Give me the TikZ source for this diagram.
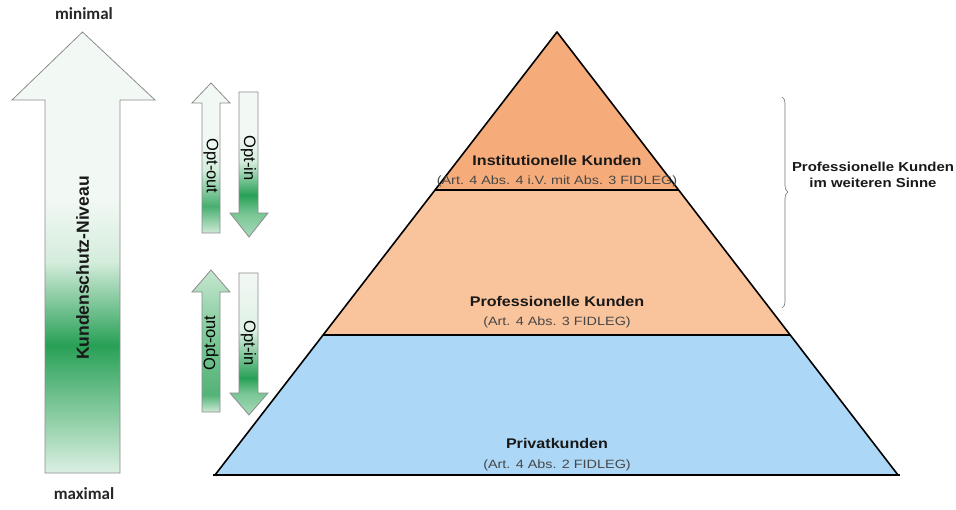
\documentclass[tikz,border=0pt]{standalone}
\usepackage{fontspec}
\setmainfont{Liberation Sans}
\newfontfamily\calib{Carlito}
\usetikzlibrary{decorations.pathreplacing}

\definecolor{instorange}{RGB}{246,172,122}
\definecolor{proforange}{RGB}{249,195,156}
\definecolor{privblue}{RGB}{172,215,246}
\definecolor{pale}{RGB}{242,248,244}
\definecolor{lightgreen}{RGB}{205,234,214}
\definecolor{midgreen}{RGB}{120,198,148}
\definecolor{darkgreen}{RGB}{40,160,86}

% vertical gradients (25bp = bottom of path, 75bp = top)
\pgfdeclareverticalshading{niveau}{100bp}{
  color(0bp)=(lightgreen!60!pale); color(25bp)=(lightgreen!60!pale);
  color(30bp)=(midgreen!70!pale); color(39.5bp)=(darkgreen);
  color(49bp)=(lightgreen!80!pale); color(56bp)=(pale);
  color(75bp)=(pale); color(100bp)=(pale)}
\pgfdeclareverticalshading{outtop}{100bp}{
  color(0bp)=(lightgreen); color(25bp)=(lightgreen);
  color(34bp)=(darkgreen!85!white); color(46bp)=(lightgreen!80!pale);
  color(56bp)=(pale); color(75bp)=(pale); color(100bp)=(pale)}
\pgfdeclareverticalshading{intop}{100bp}{
  color(0bp)=(midgreen!60!pale); color(25bp)=(midgreen!60!pale);
  color(33bp)=(midgreen); color(39.5bp)=(darkgreen);
  color(51bp)=(lightgreen!80!pale); color(60bp)=(pale);
  color(75bp)=(pale); color(100bp)=(pale)}
\pgfdeclareverticalshading{outbottom}{100bp}{
  color(0bp)=(lightgreen); color(25bp)=(lightgreen);
  color(31bp)=(darkgreen!80!white); color(50bp)=(midgreen);
  color(75bp)=(lightgreen!90!midgreen); color(100bp)=(lightgreen!90!midgreen)}
\pgfdeclareverticalshading{inbottom}{100bp}{
  color(0bp)=(midgreen!60!pale); color(25bp)=(midgreen!60!pale);
  color(32.7bp)=(midgreen); color(38bp)=(darkgreen);
  color(55bp)=(lightgreen!50!pale); color(75bp)=(pale); color(100bp)=(pale)}

\tikzset{
      outline/.style = { draw=black!45, line width=0.8pt, line join=miter },
         tier/.style = { draw=black, line width=1.6pt, line join=round },
    tierlabel/.style = { font=\bfseries\fontsize{14}{16}\selectfont, text=black!90, xscale=1.15 },
      article/.style = { font=\fontsize{12}{14}\selectfont, text=black!72, xscale=1.2 },
        level/.style = { font=\calib\bfseries\fontsize{17}{19}\selectfont, text=black!85 },
          opt/.style = { font=\fontsize{16.5}{18}\selectfont, text=black, inner sep=0pt },
        brace/.style = { decorate, decoration={brace, amplitude=6pt, aspect=0.45}, draw=black!55, line width=0.6pt }
}

\begin{document}
\begin{tikzpicture}[x=1pt, y=-1pt]
  \useasboundingbox (0,0) rectangle (956,509);

  % pyramid tiers
  \fill[privblue]   (323,335) -- (790,335) -- (898,475) -- (215,475) -- cycle;
  \fill[proforange] (435,190) -- (679,190) -- (790,335) -- (323,335) -- cycle;
  \fill[instorange] (557,32) -- (679,190) -- (435,190) -- cycle;

  % pyramid outline and partitions
  \draw[tier] (215,475) -- (557,32) -- (898,475);
  \draw[tier] (435,190) -- (679,190);
  \draw[tier] (323,335) -- (790,335);
  \draw[tier, line width=2.6pt] (213,475) -- (900,475);

  \node (inst)     at (557,160) [tierlabel] {Institutionelle Kunden};
  \node (instart)  at (557,181) [article]   {(Art. 4 Abs. 4 i.V. mit Abs. 3 FIDLEG)};
  \node (prof)     at (557,301) [tierlabel] {Professionelle Kunden};
  \node (profart)  at (557,322) [article]   {(Art. 4 Abs. 3 FIDLEG)};
  \node (priv)     at (557,443) [tierlabel] {Privatkunden};
  \node (privart)  at (557,465) [article]   {(Art. 4 Abs. 2 FIDLEG)};

  % protection level arrow
  \shade[shading=niveau] (45,473) -- (45,100) -- (12,100) -- (82.5,32) -- (155,100) -- (120,100) -- (120,473) -- cycle;
  \draw[outline] (45,473) -- (45,100) -- (12,100) -- (82.5,32) -- (155,100) -- (120,100) -- (120,473) -- cycle;
  \node (niveau)  at (82.5,268) [rotate=90, font=\bfseries\fontsize{17.5}{19}\selectfont, text=black!90] {Kundenschutz-Niveau};
  \node (minimal) at (84,14)  [level] {minimal};
  \node (maximal) at (84,494) [level] {maximal};

  % opt-out / opt-in arrows
  \shade[shading=outtop] (202,233) -- (202,103) -- (192,103) -- (211,83) -- (230,103) -- (220,103) -- (220,233) -- cycle;
  \draw[outline] (202,233) -- (202,103) -- (192,103) -- (211,83) -- (230,103) -- (220,103) -- (220,233) -- cycle;
  \shade[shading=intop] (239,92) -- (258,92) -- (258,213) -- (268,213) -- (249,237) -- (230,213) -- (239,213) -- cycle;
  \draw[outline] (239,92) -- (258,92) -- (258,213) -- (268,213) -- (249,237) -- (230,213) -- (239,213) -- cycle;

  \shade[shading=outbottom] (202,412) -- (202,292) -- (192,292) -- (211,270) -- (230,292) -- (220,292) -- (220,412) -- cycle;
  \draw[outline] (202,412) -- (202,292) -- (192,292) -- (211,270) -- (230,292) -- (220,292) -- (220,412) -- cycle;
  \shade[shading=inbottom] (239,273) -- (258,273) -- (258,393) -- (268,393) -- (249,415) -- (230,393) -- (239,393) -- cycle;
  \draw[outline] (239,273) -- (258,273) -- (258,393) -- (268,393) -- (249,415) -- (230,393) -- (239,393) -- cycle;

  \node (outtop)    at (211,166) [opt, rotate=-90] {Opt-out};
  \node (intop)     at (248.5,158) [opt, rotate=-90] {Opt-in};
  \node (outbottom) at (211,343) [opt, rotate=90]  {Opt-out};
  \node (inbottom)  at (248.5,343) [opt, rotate=-90] {Opt-in};

  % professional clients in the wider sense
  \coordinate (bracetop) at (782,97);
  \coordinate (bracebot) at (782,308);
  \draw[brace] (bracetop) -- (bracebot);
  \node (wider) at (873,175) [tierlabel, font=\bfseries\fontsize{13}{16}\selectfont, align=center] {Professionelle Kunden\\im weiteren Sinne};
\end{tikzpicture}
\end{document}
